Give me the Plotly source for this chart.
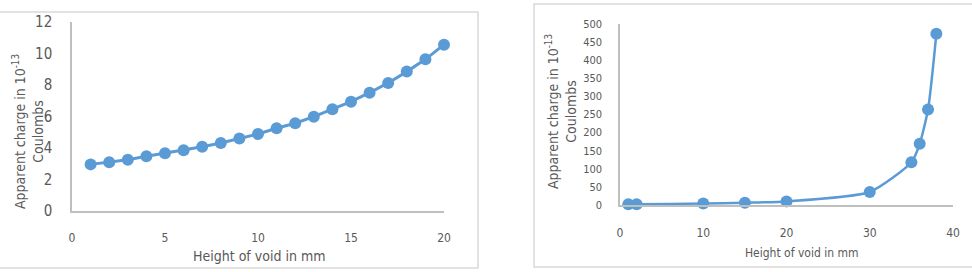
import plotly.graph_objects as go

W, H = 972, 272

# Left chart data
height_left = list(range(1, 21))
charge_left = [2.96, 3.09, 3.26, 3.47, 3.66, 3.85, 4.08, 4.32, 4.61, 4.89,
               5.25, 5.57, 5.99, 6.46, 6.94, 7.51, 8.13, 8.85, 9.63, 10.56]

# Right chart data
height_right = [1, 2, 10, 15, 20, 30, 35, 36, 37, 38]
charge_right = [2, 2, 4, 6.5, 10, 36, 118, 169, 264, 473]

left_xticks = [0, 5, 10, 15, 20]
left_yticks = [0, 2, 4, 6, 8, 10, 12]
right_xticks = [0, 10, 20, 30, 40]
right_yticks = list(range(0, 501, 50))

BLUE = "#5B9BD5"
TXT = "#595959"
AX = "#BFBFBF"
FONT = "DejaVu Sans Condensed, DejaVu Sans, sans-serif"

def px(x):
    return x / W

def py(y):
    return 1 - y / H

fig = go.Figure()
fig.add_trace(go.Scatter(x=height_left, y=charge_left, mode="lines+markers",
                         line=dict(color=BLUE, width=3),
                         marker=dict(color=BLUE, size=12),
                         xaxis="x", yaxis="y", showlegend=False, cliponaxis=False))
fig.add_trace(go.Scatter(x=height_right, y=charge_right, mode="lines+markers",
                         line=dict(color=BLUE, width=2.5, shape="spline", smoothing=0.6),
                         marker=dict(color=BLUE, size=12),
                         xaxis="x2", yaxis="y2", showlegend=False, cliponaxis=False))

common_ax = dict(showgrid=False, zeroline=False, linecolor=AX, linewidth=1.5,
                 showline=True, ticks="outside", tickcolor="rgba(0,0,0,0)",
                 automargin=False)

fig.update_layout(
    template="none",
    width=W, height=H, margin=dict(l=0, r=0, t=0, b=0, pad=0),
    paper_bgcolor="white", plot_bgcolor="white",
    font=dict(family=FONT, color=TXT),
    xaxis=dict(domain=[px(72), px(444)], range=[0, 20], tickvals=left_xticks,
               anchor="y", ticklen=15, tickfont=dict(size=12, color=TXT), **common_ax),
    yaxis=dict(domain=[py(211), py(22)], range=[0, 12], tickvals=left_yticks,
               anchor="x", ticklen=15, tickfont=dict(size=15, color=TXT), **common_ax),
    xaxis2=dict(domain=[px(620), px(953)], range=[0, 40], tickvals=right_xticks,
                anchor="y2", ticklen=16, tickfont=dict(size=12, color=TXT), **common_ax),
    yaxis2=dict(domain=[py(205), py(24)], range=[0, 500], tickvals=right_yticks,
                anchor="x2", ticklen=14, tickfont=dict(size=11, color=TXT), **common_ax),
)

# Borders
fig.add_shape(type="rect", xref="paper", yref="paper",
              x0=px(-2), x1=px(478), y0=py(268), y1=py(12),
              line=dict(color="#D9D9D9", width=1.5), layer="below")
fig.add_shape(type="rect", xref="paper", yref="paper",
              x0=px(534), x1=px(974), y0=py(267), y1=py(4),
              line=dict(color="#D9D9D9", width=1.5), layer="below")

ytitle = "Apparent charge in 10<sup>-13</sup><br>Coulombs"
fig.add_annotation(text=ytitle, xref="paper", yref="paper", x=px(28), y=py(132),
                   textangle=-90, showarrow=False, xanchor="center", yanchor="middle",
                   font=dict(size=14, color=TXT))
fig.add_annotation(text=ytitle, xref="paper", yref="paper", x=px(561), y=py(112),
                   textangle=-90, showarrow=False, xanchor="center", yanchor="middle",
                   font=dict(size=14, color=TXT))
fig.add_annotation(text="Height of void in mm", xref="paper", yref="paper",
                   x=px(259), y=py(256), showarrow=False, xanchor="center", yanchor="middle",
                   font=dict(size=14, color=TXT))
fig.add_annotation(text="Height of void in mm", xref="paper", yref="paper",
                   x=px(802), y=py(253), showarrow=False, xanchor="center", yanchor="middle",
                   font=dict(size=12, color=TXT))

fig.write_html("out.html")
